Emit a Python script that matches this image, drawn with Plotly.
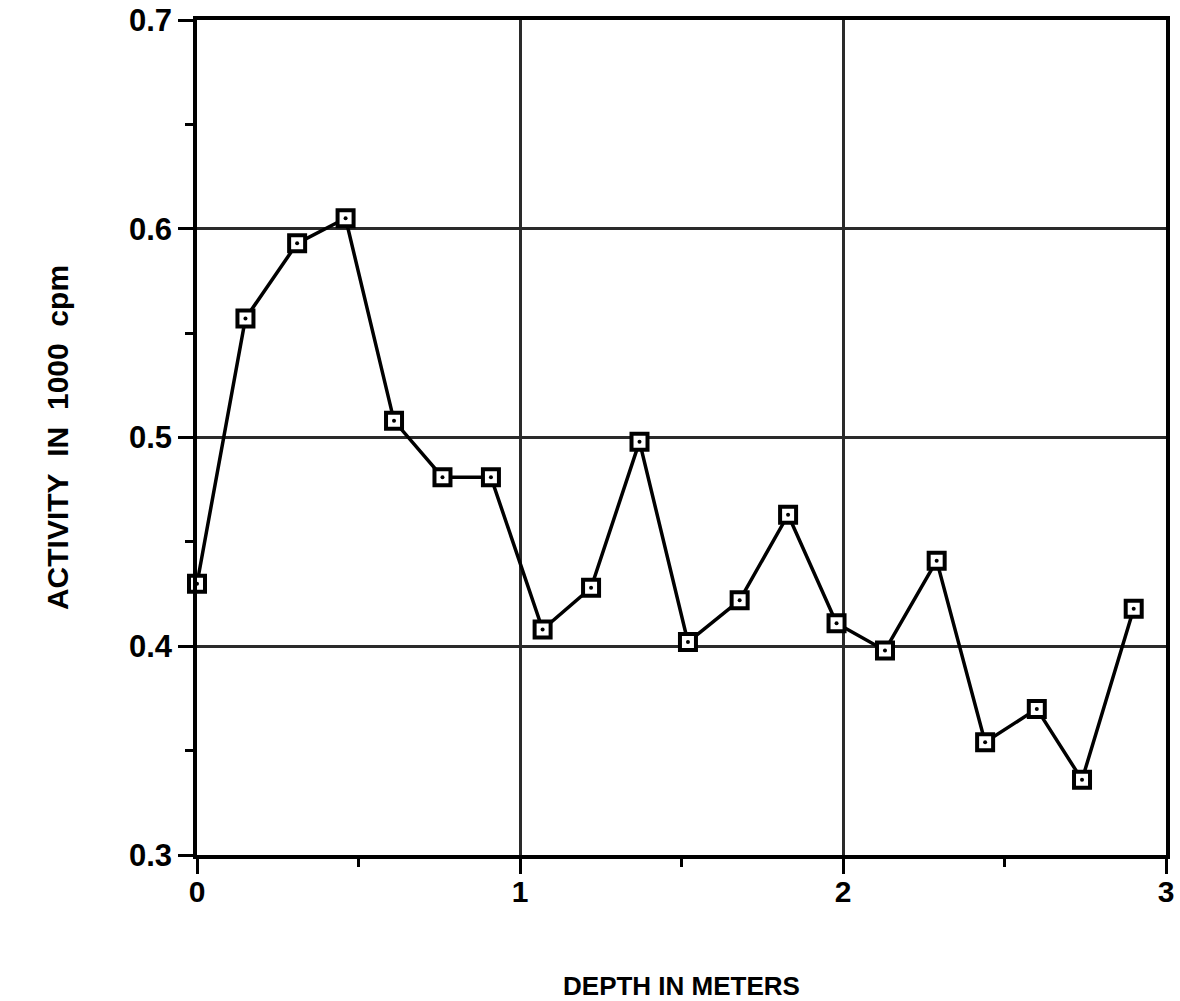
import plotly.graph_objects as go

depth_m = [0.0, 0.15, 0.31, 0.46, 0.61, 0.76, 0.91, 1.07, 1.22, 1.37,
           1.52, 1.68, 1.83, 1.98, 2.13, 2.29, 2.44, 2.60, 2.74, 2.90]
activity = [0.430, 0.557, 0.593, 0.605, 0.508, 0.481, 0.481, 0.408, 0.428, 0.498,
            0.402, 0.422, 0.463, 0.411, 0.398, 0.441, 0.354, 0.370, 0.336, 0.418]

x_ticks = [0, 1, 2, 3]
y_ticks = [0.3, 0.4, 0.5, 0.6, 0.7]
y_tick_labels = ["0.3", "0.4", "0.5", "0.6", "0.7"]

FONT = "Liberation Sans"

fig = go.Figure()
fig.add_trace(go.Scatter(
    x=depth_m, y=activity, mode="lines+markers",
    line=dict(color="black", width=3.5),
    marker=dict(symbol="square", size=16, color="white",
                line=dict(color="black", width=4)),
    showlegend=False, hoverinfo="skip", cliponaxis=False))
fig.add_trace(go.Scatter(
    x=depth_m, y=activity, mode="markers",
    marker=dict(symbol="circle", size=4, color="black"),
    showlegend=False, hoverinfo="skip", cliponaxis=False))

fig.update_layout(
    width=1180, height=1001,
    margin=dict(l=197, r=14, t=20, b=146),
    paper_bgcolor="white", plot_bgcolor="white",
    font=dict(family=FONT, color="black", size=22, weight="bold"),
    xaxis=dict(
        range=[0, 3], tickvals=x_ticks, ticktext=[str(v) for v in x_ticks],
        ticks="outside", ticklen=15, tickwidth=3, tickcolor="black",
        minor=dict(dtick=0.5, ticks="outside", ticklen=8, tickwidth=3,
                   tickcolor="black", showgrid=False),
        showline=True, linewidth=3.5, linecolor="black", mirror=True,
        showgrid=True, gridcolor="#2a2a2a", gridwidth=2.5, griddash="solid",
        zeroline=False, automargin=False, ticklabelstandoff=-8,
        ticklabeloverflow="allow",
        tickfont=dict(family=FONT, size=30, weight="bold"),
        title=dict(text="DEPTH IN METERS", standoff=76,
                   font=dict(family=FONT, size=26, weight="bold")),
    ),
    yaxis=dict(
        range=[0.3, 0.7], tickvals=y_ticks, ticktext=y_tick_labels,
        ticks="outside", ticklen=15, tickwidth=3, tickcolor="black",
        minor=dict(dtick=0.05, ticks="outside", ticklen=8, tickwidth=3,
                   tickcolor="black", showgrid=False),
        showline=True, linewidth=3.5, linecolor="black", mirror=True,
        showgrid=True, gridcolor="#2a2a2a", gridwidth=3, griddash="solid",
        zeroline=False, automargin=False, ticklabeloverflow="allow",
        tickfont=dict(family=FONT, size=31, weight="bold"),
        title=dict(text="ACTIVITY\u00a0\u00a0IN\u00a0\u00a01000\u00a0\u00a0cpm", standoff=52,
                   font=dict(family=FONT, size=30, weight="bold")),
    ),
)

fig.write_html("out.html", config={"displayModeBar": False},
               post_script="document.body.style.margin='0';document.body.style.overflow='hidden';")
